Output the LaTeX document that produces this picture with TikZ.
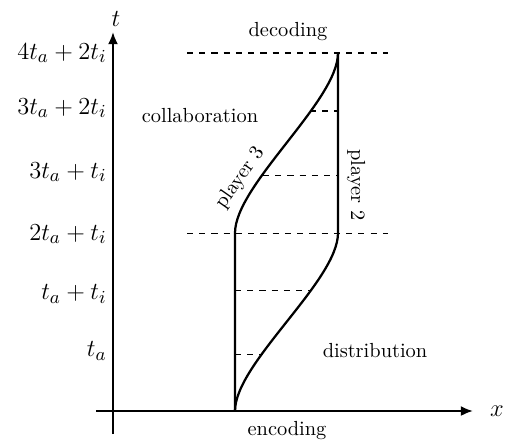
\documentclass[tikz,border=0pt]{standalone}
\usetikzlibrary{arrows.meta}
\begin{document}
\begin{tikzpicture}[x=0.4902pt,y=-0.4902pt,
  axis/.style={line width=1.1pt,-{Latex[length=6pt,width=5pt]}},
  curve/.style={line width=1.1pt},
  dashline/.style={dashed,line width=0.5pt},
  lbl/.style={inner sep=0pt},
  tick/.style={anchor=east,inner sep=0pt,font=\fontsize{12.8}{15}\selectfont}]
\useasboundingbox (0,0) rectangle (510,439);
% axes
\coordinate (xs) at (96,411);
\coordinate (xe) at (473,411);
\coordinate (ys) at (113,434);
\coordinate (ye) at (113,32);
\draw[axis] (xs) -- (xe);
\draw[axis] (ys) -- (ye);
\node[lbl] (tl) at (116,19) {\large$t$};
\node[lbl] (xl) at (497,411) {\large$x$};
% tick labels
\node[tick] (k1) at (107,53) {$4t_a+2t_i$};
\node[tick] (k2) at (107,108) {$3t_a+2t_i$};
\node[tick] (k3) at (107,172) {$3t_a+t_i$};
\node[tick] (k4) at (107,234) {$2t_a+t_i$};
\node[tick] (k5) at (107,294) {$t_a+t_i$};
\node[tick] (k6) at (107,351) {$t_a$};
% key points
\coordinate (o) at (235,411);
\coordinate (a) at (235,233);
\coordinate (b) at (338,233);
\coordinate (c) at (338,53);
% dashed levels
\coordinate (d1l) at (187,53); \coordinate (d1r) at (388,53);
\coordinate (d2l) at (187,233); \coordinate (d2r) at (388,233);
\draw[dashline] (d1l) -- (d1r);
\draw[dashline] (d2l) -- (d2r);
\coordinate (h1l) at (235,354); \coordinate (h1r) at (263,354);
\coordinate (h2l) at (235,290); \coordinate (h2r) at (310,290);
\coordinate (h3l) at (263,175); \coordinate (h3r) at (338,175);
\coordinate (h4l) at (310,111); \coordinate (h4r) at (338,111);
\draw[dashline] (h1l) -- (h1r);
\draw[dashline] (h2l) -- (h2r);
\draw[dashline] (h3l) -- (h3r);
\draw[dashline] (h4l) -- (h4r);
% players
\draw[curve] (o) -- (a) .. controls (235,185) and (338,101) .. (c);
\draw[curve] (o) .. controls (235,363) and (338,281) .. (b) -- (c);
% labels
\node[lbl,rotate=55] (p3) at (240,178) {player 3};
\node[lbl,rotate=-90] (p2) at (356,185) {player 2};
\node[lbl] (col) at (200,116) {collaboration};
\node[lbl] (dis) at (375,351) {distribution};
\node[lbl] (enc) at (287,431) {encoding};
\node[lbl] (dec) at (288,32) {decoding};
\end{tikzpicture}
\end{document}
